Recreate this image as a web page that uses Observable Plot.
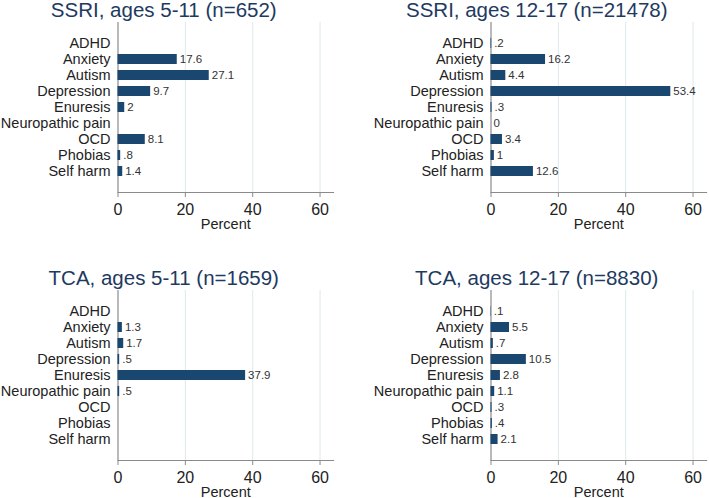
<!DOCTYPE html>
<html>
<head>
<meta charset="utf-8">
<script src="https://cdn.jsdelivr.net/npm/d3@7"></script>
<script src="https://cdn.jsdelivr.net/npm/@observablehq/plot@0.6"></script>
<style>
  html, body { margin: 0; padding: 0; background: #fff; overflow: hidden; }
  #root { position: relative; width: 709px; height: 498px; background: #fff; }
  .panel { position: absolute; }
  svg { font-family: "Liberation Sans", Arial, sans-serif; }
</style>
</head>
<body>
<div id="root"></div>
<script>
// ---- data ----
const categories = ["ADHD", "Anxiety", "Autism", "Depression", "Enuresis", "Neuropathic pain", "OCD", "Phobias", "Self harm"];
const ssri511  = [null, 17.6, 27.1, 9.7, 2, null, 8.1, 0.8, 1.4];
const ssri1217 = [0.2, 16.2, 4.4, 53.4, 0.3, 0, 3.4, 1, 12.6];
const tca511   = [null, 1.3, 1.7, 0.5, 37.9, 0.5, null, null, null];
const tca1217  = [0.1, 5.5, 0.7, 10.5, 2.8, 1.1, 0.3, 0.4, 2.1];
const titles = ["SSRI, ages 5-11 (n=652)", "SSRI, ages 12-17 (n=21478)", "TCA, ages 5-11 (n=1659)", "TCA, ages 12-17 (n=8830)"];
const xTicks = [0, 20, 40, 60];
const xLabel = "Percent";

// ---- layout ----
const panels = [
  {values: ssri511,  title: titles[0], left: 0,   top: 0},
  {values: ssri1217, title: titles[1], left: 373, top: 0},
  {values: tca511,   title: titles[2], left: 0,   top: 268},
  {values: tca1217,  title: titles[3], left: 373, top: 268}
];

const barColor = "#1a476f";
const axisColor = "#8a8a8a";
const fmt = v => v === 0 ? "0" : String(v).replace(/^0\./, ".");

const root = document.getElementById("root");
for (const p of panels) {
  const rows = categories.map((c, i) => ({cat: c, v: p.values[i]}));
  const present = rows.filter(d => d.v != null);
  const chart = Plot.plot({
    width: 336,
    height: 249,
    marginLeft: 117.5,
    marginRight: 3,
    marginTop: 22,
    marginBottom: 57,
    style: {fontFamily: '"Liberation Sans", Arial, sans-serif', background: "transparent", overflow: "visible"},
    x: {domain: [0, 64], label: null},
    y: {domain: categories, range: [35, 179], paddingInner: 0.4, paddingOuter: 0.2, label: null},
    marks: [
      Plot.gridX({ticks: xTicks.filter(t => t > 0), stroke: "#dde9ed", strokeOpacity: 1}),
      Plot.ruleX([0], {stroke: axisColor, strokeWidth: 1.2}),
      Plot.frame({anchor: "bottom", stroke: axisColor, strokeWidth: 1.2}),
      Plot.barX(present, {x: "v", y: "cat", fill: barColor}),
      Plot.text(present, {x: "v", y: "cat", text: d => fmt(d.v), textAnchor: "start", dx: 2.5, fontSize: 11.5, fill: "#333"}),
      Plot.axisX({ticks: xTicks, tickSize: 5, tickPadding: 6, fontSize: 16, label: null, stroke: axisColor, fill: "#222"}),
      Plot.axisY({tickSize: 0, tickPadding: 7.5, fontSize: 14.5, label: null, fill: "#222"}),
      Plot.text([p.title], {text: d => d, frameAnchor: "top", lineAnchor: "middle", dy: -12.3, dx: -62, fontSize: 20.5, fill: "#1e3a5f"}),
      Plot.text([xLabel], {text: d => d, frameAnchor: "bottom", lineAnchor: "middle", dy: 31.4, fontSize: 14.5, fill: "#222"})
    ]
  });
  const div = document.createElement("div");
  div.className = "panel";
  div.style.left = p.left + "px";
  div.style.top = p.top + "px";
  div.appendChild(chart);
  root.appendChild(div);
}
</script>
</body>
</html>
